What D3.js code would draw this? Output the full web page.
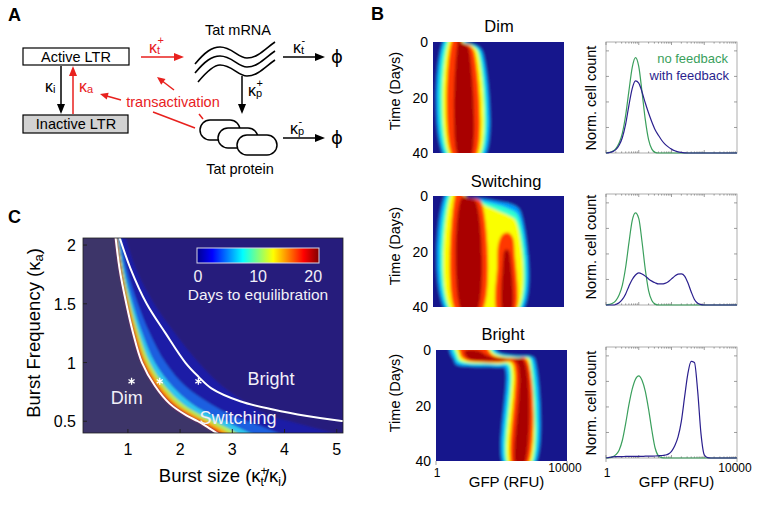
<!DOCTYPE html>
<html><head><meta charset="utf-8">
<script src="https://cdn.jsdelivr.net/npm/d3@7"></script>
<style>body{margin:0;background:#fff}</style>
</head><body>
<script>
// ================= DATA =================
// Panel B : GFP grid (log10 RFU) for histograms
const gfpLog = [0,0.1,0.2,0.3,0.4,0.5,0.6,0.7,0.8,0.9,1.0,1.1,1.2,1.3,1.4,1.5,1.6,1.7,1.8,1.9,2.0,2.1,2.2,2.3,2.4,2.5,2.6,2.7,2.8,2.9,3.0,3.1,3.2,3.3,3.4,3.5,3.6,3.7,3.8,3.9,4.0];
const noFbDim   = [0,0.005,0.015,0.04,0.09,0.18,0.34,0.56,0.77,0.86,0.78,0.55,0.30,0.12,0.035,0.006,0,0,0,0,0,0,0,0,0,0,0,0,0,0,0,0,0,0,0,0,0,0,0,0,0];
const withFbDim = [0,0.004,0.012,0.03,0.07,0.14,0.26,0.43,0.58,0.65,0.63,0.55,0.45,0.36,0.28,0.21,0.16,0.115,0.08,0.055,0.035,0.02,0.01,0.005,0.002,0,0,0,0,0,0,0,0,0,0,0,0,0,0,0,0];
const noFbSw    = [0,0.005,0.015,0.04,0.09,0.18,0.34,0.56,0.76,0.83,0.78,0.57,0.32,0.13,0.04,0.008,0,0,0,0,0,0,0,0,0,0,0,0,0,0,0,0,0,0,0,0,0,0,0,0,0];
const withFbSw  = [0,0,0,0.005,0.02,0.05,0.10,0.17,0.23,0.27,0.29,0.28,0.26,0.235,0.215,0.20,0.19,0.19,0.195,0.21,0.235,0.26,0.278,0.28,0.26,0.20,0.12,0.05,0.015,0.003,0,0,0,0,0,0,0,0,0,0,0];
const noFbBr    = [0,0.003,0.01,0.03,0.07,0.16,0.31,0.48,0.62,0.71,0.74,0.70,0.60,0.44,0.25,0.09,0.02,0.003,0,0,0,0,0,0,0,0,0,0,0,0,0,0,0,0,0,0,0,0,0,0,0];
const withFbBr  = [0,0.005,0.01,0.012,0.013,0.013,0.014,0.014,0.015,0.015,0.015,0.015,0.016,0.016,0.017,0.018,0.02,0.022,0.026,0.035,0.06,0.11,0.19,0.33,0.55,0.76,0.87,0.86,0.60,0.22,0.03,0.003,0,0,0,0,0,0,0,0,0];
const histYTicks = [0.23,0.46,0.69,0.92];

const panelTitles = ["Dim","Switching","Bright"];
const timeTicks = [0,20,40];
const gfpTickLabels = ["1","10000"];
const legendLabels = ["no feedback","with feedback"];

// Heatmap contour polygons [levelIndex, [[log10 GFP, day], ...]]
const heatLevels = [0.28,0.42,0.62,0.82,0.96];
const dimContours = [
 [0,[[0.40,-2],[1.02,-2],[1.02,0],[1.36,1.5],[1.51,3.5],[1.53,42],[0.40,42]]],
 [1,[[0.46,-2],[0.97,-2],[0.97,0],[1.28,1.5],[1.44,3.5],[1.45,42],[0.46,42]]],
 [2,[[0.55,-2],[0.92,-2],[0.92,0],[1.21,1.5],[1.36,3.5],[1.37,42],[0.55,42]]],
 [3,[[0.64,-2],[0.88,-2],[0.88,0],[1.15,1.5],[1.26,3.5],[1.27,42],[0.64,42]]],
 [4,[[0.80,-2],[0.85,-2],[0.85,0],[1.06,1.5],[1.12,3.5],[1.13,42],[0.80,42]]]
];
const swContours = [
 [0,[[0.45,-2],[0.95,-2],[1.0,0.2],[1.5,1.0],[2.0,2.0],[2.5,3.5],[2.68,6],[2.68,42],[0.45,42]]],
 [1,[[0.52,-2],[0.85,-2],[1.0,0.5],[1.4,1.5],[1.9,3.0],[2.3,4.5],[2.6,7],[2.6,42],[0.52,42]]],
 [2,[[0.6,-2],[0.8,-2],[1.1,1.0],[1.45,2.5],[1.7,4],[2.0,5.5],[2.3,7],[2.53,9],[2.53,42],[0.6,42]]],
 [3,[[0.72,-2],[0.8,-2],[1.0,0.5],[1.3,1.0],[1.47,2],[1.47,42],[0.72,42]]],
 [3,[[1.98,42],[1.96,25],[2.0,17],[2.13,13.8],[2.3,13.2],[2.44,15],[2.49,20],[2.49,42]]],
 [4,[[0.88,0.5],[1.1,0.8],[1.3,1.8],[1.32,42],[0.9,42]]],
 [4,[[2.15,42],[2.13,25],[2.2,19.5],[2.3,19.5],[2.38,24],[2.38,42]]]
];
const brContours = [
 [0,[[0.42,-2],[1.7,-2],[1.9,0.8],[2.4,2.0],[2.9,2.3],[3.0,3.0],[2.98,42],[2.1,42],[2.1,6.5],[1.9,6.2],[1.2,6.0],[0.8,5.8],[0.6,5.0],[0.55,3.5],[0.45,1.5]]],
 [1,[[0.5,-2],[1.6,-2],[1.85,1.2],[2.4,2.4],[2.85,2.6],[2.93,3.3],[2.92,42],[2.17,42],[2.17,5.8],[1.9,5.5],[1.2,5.3],[0.85,5.0],[0.65,4.2],[0.58,2.5]]],
 [2,[[0.58,-2],[1.5,-2],[1.8,1.5],[2.4,2.7],[2.82,2.9],[2.86,3.6],[2.85,42],[2.24,42],[2.24,5.2],[1.9,5.0],[1.3,4.8],[0.9,4.4],[0.72,3.5],[0.65,1.5]]],
 [3,[[0.7,-2],[1.45,-2],[1.75,2.0],[2.4,3.0],[2.76,3.2],[2.77,42],[2.34,42],[2.33,4.6],[1.9,4.5],[1.3,4.3],[0.95,3.8],[0.78,2.5],[0.72,0.5]]],
 [4,[[0.88,0.3],[1.3,0.3],[1.6,2.2],[2.3,3.3],[2.67,3.5],[2.67,42],[2.44,42],[2.44,4.2],[1.9,4.0],[1.3,3.8],[1.0,3.2],[0.88,1.5]]]
];

// Panel C : contour lines of "days to equilibration" (burst size at each burst frequency)
const cKa    = [2.12,1.8,1.5,1.25,1.0,0.8,0.65,0.55,0.5,0.44,0.37,0.33];
const cLeft  = [0.75,0.84,0.97,1.10,1.27,1.52,1.80,2.12,2.34,2.56,2.82,3.00];
const cDay18 = [0.77,0.86,0.99,1.13,1.31,1.57,1.87,2.20,2.42,2.65,2.92,3.10];
const cDay14 = [0.78,0.88,1.02,1.17,1.36,1.64,1.95,2.30,2.53,2.77,3.05,3.25];
const cDay10 = [0.79,0.90,1.05,1.21,1.42,1.71,2.05,2.42,2.66,2.92,3.22,3.42];
const cDay6  = [0.81,0.93,1.10,1.28,1.52,1.85,2.23,2.62,2.88,3.15,3.50,3.70];
const cDay3  = [0.84,0.98,1.19,1.42,1.72,2.10,2.58,3.00,3.30,3.65,4.05,4.30];
const cDay1  = [0.92,1.15,1.50,1.90,2.35,2.80,3.30,3.70,4.10,4.60,5.20,5.60];
const rightKa = [2.12,1.8,1.5,1.25,1.0,0.88,0.78,0.67,0.6,0.545,0.505,0.49];
const rightB  = [0.80,1.05,1.36,1.72,2.10,2.35,2.60,3.15,3.78,4.43,5.06,5.40];
const starBurst = [1.07,1.61,2.35];
const starKa = [0.84,0.84,0.84];
const cXTicks = [1,2,3,4,5];
const cYTicks = [0.5,1,1.5,2];
const colorbarTicks = [0,10,20];
const regionLabels = ["Dim","Switching","Bright"];
const regionBurst = [0.98,3.11,3.74];
const regionKa = [0.647,0.477,0.81];

// ================= DRAW =================
const FONT = '"Liberation Sans", Arial, Helvetica, sans-serif';
const svg = d3.select("body").append("svg").attr("width",758).attr("height",505)
  .style("font-family",FONT);
const defs = svg.append("defs");
const jet = d3.scaleLinear().domain([0,0.125,0.375,0.625,0.875,1])
  .range(["#00008f","#0000ff","#00ffff","#ffff00","#ff0000","#800000"]).clamp(true);
const RED = "#e8211e";

function arrow(g,x1,y1,x2,y2,color,hl=10,hw=4,w=1.5){
  const dx=x2-x1, dy=y2-y1, L=Math.hypot(dx,dy), ux=dx/L, uy=dy/L;
  const bx=x2-ux*hl, by=y2-uy*hl;
  g.append("line").attr("x1",x1).attr("y1",y1).attr("x2",bx+ux).attr("y2",by+uy)
    .attr("stroke",color).attr("stroke-width",w);
  g.append("path").attr("d",`M${x2},${y2}L${bx-uy*hw},${by+ux*hw}L${bx+uy*hw},${by-ux*hw}Z`).attr("fill",color);
}
function kappa(g,x,y,sup,sub,color,fs=16){
  const t = g.append("text").attr("x",x).attr("y",y).attr("font-size",fs).attr("fill",color);
  t.append("tspan").text("κ");
  if(sub) t.append("tspan").attr("font-size",11).attr("dy",1).text(sub);
  if(sup) g.append("text").attr("x",x+8.5).attr("y",y-9).attr("font-size",11).attr("fill",color).text(sup);
}

// ---------- Panel A ----------
const A = svg.append("g");
A.append("text").attr("x",8).attr("y",21).attr("font-size",18).attr("font-weight","bold").text("A");
A.append("rect").attr("x",23).attr("y",48).attr("width",106).attr("height",17).attr("fill","#fff").attr("stroke","#000").attr("stroke-width",1.2);
A.append("text").attr("x",76).attr("y",61.5).attr("text-anchor","middle").attr("font-size",14.5).text("Active LTR");
A.append("rect").attr("x",23).attr("y",115).attr("width",105).attr("height",18).attr("fill","#d2d2d2").attr("stroke","#000").attr("stroke-width",1.2);
A.append("text").attr("x",76).attr("y",129).attr("text-anchor","middle").attr("font-size",14.5).text("Inactive LTR");
arrow(A,61,66,61,114,"#000");
arrow(A,73,114,73,66,RED);
kappa(A,45,92,null,"i","#000");
kappa(A,79,92,null,"a",RED);
arrow(A,141,57,184,57,RED);
kappa(A,149,53,"+","t",RED);
A.append("text").attr("x",238).attr("y",35).attr("text-anchor","middle").attr("font-size",14.5).text("Tat mRNA");
[0,9,18].forEach((o,i)=>{
  const x0 = 195 + (i===2?3:0);
  A.append("path").attr("d",`M${x0},${64+o} C${x0+10},${52+o} ${x0+17},${47+o} 220,${47+o} C232,${47+o} 238,${58+o} 247,${58+o} C258,${58+o} 266,${48+o} 275,${42+o}`)
    .attr("fill","none").attr("stroke","#000").attr("stroke-width",1.6);
});
arrow(A,283,57,325,57,"#000");
kappa(A,293,53,"-","t","#000");
A.append("text").attr("x",337).attr("y",63).attr("text-anchor","middle").attr("font-size",18).style("font-family","'DejaVu Sans'").text("ϕ");
arrow(A,242,76,242,114,"#000");
kappa(A,248,96,"+","p","#000");
[[200,120],[218,128],[237,135]].forEach(p=>{
  A.append("rect").attr("x",p[0]).attr("y",p[1]).attr("width",40).attr("height",20).attr("rx",10)
    .attr("fill","#fff").attr("stroke","#000").attr("stroke-width",1.5);
});
A.append("text").attr("x",240).attr("y",174).attr("text-anchor","middle").attr("font-size",14.5).text("Tat protein");
arrow(A,283,138,325,138,"#000");
kappa(A,290,134,"-","p","#000");
A.append("text").attr("x",337).attr("y",144).attr("text-anchor","middle").attr("font-size",18).style("font-family","'DejaVu Sans'").text("ϕ");
A.append("text").attr("x",173).attr("y",107).attr("text-anchor","middle").attr("font-size",14.5).attr("fill",RED).text("transactivation");
arrow(A,121,100,100,94,RED,8,3.5);
arrow(A,174,90,157,77,RED,8,3.5);
A.append("line").attr("x1",195).attr("y1",128).attr("x2",153).attr("y2",112).attr("stroke",RED).attr("stroke-width",1.5);
A.append("line").attr("x1",203).attr("y1",119).attr("x2",199).attr("y2",114).attr("stroke",RED).attr("stroke-width",1.5);

// ---------- Panel B ----------
svg.append("text").attr("x",371).attr("y",20).attr("font-size",18).attr("font-weight","bold").text("B");
const hmX=[433,433,436], hmY=[42,196,350], hmW=131, hmH=111;
const hsX=[606,606,606], hsY=[42,194,347], hsW=131, hsH=111;
const titleX=[499,506,503], titleY=[32,187,340];
const timeLabelY=[91,246,393], normLabelY=[98,247,403];
const contourSets=[dimContours,swContours,brContours];
const noFb=[noFbDim,noFbSw,noFbBr], withFb=[withFbDim,withFbSw,withFbBr];
defs.append("filter").attr("id","blurB").attr("x","-20%").attr("y","-20%").attr("width","140%").attr("height","140%")
  .append("feGaussianBlur").attr("stdDeviation",1.5);
defs.append("filter").attr("id","blurC").attr("x","-20%").attr("y","-20%").attr("width","140%").attr("height","140%")
  .append("feGaussianBlur").attr("stdDeviation",1.1);

for(let p=0;p<3;p++){
  const gx = d3.scaleLinear().domain([0,4]).range([hmX[p],hmX[p]+hmW]);
  const ty = d3.scaleLinear().domain([0,40]).range([hmY[p],hmY[p]+hmH]);
  svg.append("text").attr("x",titleX[p]).attr("y",titleY[p]).attr("text-anchor","middle").attr("font-size",16.5).text(panelTitles[p]);
  defs.append("clipPath").attr("id","hmclip"+p).append("rect")
    .attr("x",hmX[p]).attr("y",hmY[p]).attr("width",hmW).attr("height",hmH);
  const outer = svg.append("g").attr("clip-path",`url(#hmclip${p})`);
  const inner = outer.append("g").attr("filter","url(#blurB)");
  inner.append("rect").attr("x",hmX[p]-10).attr("y",hmY[p]-10).attr("width",hmW+20).attr("height",hmH+20).attr("fill","#14148c");
  const poly = d3.line().x(d=>gx(d[0])).y(d=>ty(d[1])).curve(d3.curveCatmullRomClosed.alpha(0.5));
  contourSets[p].forEach(c=>{
    inner.append("path").attr("d",poly(c[1])).attr("fill",jet(heatLevels[c[0]]));
  });
  timeTicks.forEach(t=>{
    svg.append("text").attr("x",hmX[p]-5).attr("y",ty(t)+5).attr("text-anchor","end").attr("font-size",14).text(t);
  });
  svg.append("text").attr("transform",`translate(400,${timeLabelY[p]}) rotate(-90)`).attr("text-anchor","middle").attr("font-size",14.5).text("Time (Days)");

  // histogram
  const hx = d3.scaleLinear().domain([0,4]).range([hsX[p],hsX[p]+hsW]);
  const hy = d3.scaleLinear().domain([0,1]).range([hsY[p]+hsH,hsY[p]]);
  const hg = svg.append("g");
  hg.append("rect").attr("x",hsX[p]).attr("y",hsY[p]).attr("width",hsW).attr("height",hsH).attr("fill","#fff").attr("stroke","#9a9a9a").attr("stroke-width",0.8);
  for(let d=0; d<4; d++){
    for(let m=1;m<10;m++){
      const xv = hx(d+Math.log10(m));
      const len = m===1?3:1.6;
      hg.append("line").attr("x1",xv).attr("x2",xv).attr("y1",hsY[p]+hsH).attr("y2",hsY[p]+hsH-len).attr("stroke","#777").attr("stroke-width",0.7);
      hg.append("line").attr("x1",xv).attr("x2",xv).attr("y1",hsY[p]).attr("y2",hsY[p]+len).attr("stroke","#777").attr("stroke-width",0.7);
    }
  }
  histYTicks.forEach(v=>{
    hg.append("line").attr("x1",hsX[p]).attr("x2",hsX[p]+3).attr("y1",hy(v)).attr("y2",hy(v)).attr("stroke","#777").attr("stroke-width",0.7);
    hg.append("line").attr("x1",hsX[p]+hsW).attr("x2",hsX[p]+hsW-3).attr("y1",hy(v)).attr("y2",hy(v)).attr("stroke","#777").attr("stroke-width",0.7);
  });
  const ln = d3.line().x((d,i)=>hx(gfpLog[i])).y(d=>hy(d)).curve(d3.curveMonotoneX);
  hg.append("path").attr("d",ln(noFb[p])).attr("fill","none").attr("stroke","#3a9f5c").attr("stroke-width",1.2);
  hg.append("path").attr("d",ln(withFb[p])).attr("fill","none").attr("stroke","#2a1f8e").attr("stroke-width",1.2);
  svg.append("text").attr("transform",`translate(596,${normLabelY[p]}) rotate(-90)`).attr("text-anchor","middle").attr("font-size",14.5).text("Norm. cell count");

  if(p===0){
    svg.append("text").attr("x",728).attr("y",63).attr("text-anchor","end").attr("font-size",13).attr("fill","#3a9f5c").text(legendLabels[0]);
    svg.append("text").attr("x",729).attr("y",80).attr("text-anchor","end").attr("font-size",13).attr("fill","#2a1f8e").text(legendLabels[1]);
  }
  if(p===2){
    [[gx,hmY[p]+hmH],[hx,hsY[p]+hsH]].forEach(([sc,yb])=>{
      [0,4].forEach(v=>{
        svg.append("line").attr("x1",sc(v)).attr("x2",sc(v)).attr("y1",yb).attr("y2",yb+4).attr("stroke","#888").attr("stroke-width",0.8);
      });
      svg.append("text").attr("x",sc(0)+1).attr("y",477).attr("text-anchor","middle").attr("font-size",12).text(gfpTickLabels[0]);
      svg.append("text").attr("x",sc(4)-2).attr("y",472).attr("text-anchor","middle").attr("font-size",12).text(gfpTickLabels[1]);
      svg.append("text").attr("x",(sc(0)+sc(4))/2+5).attr("y",487).attr("text-anchor","middle").attr("font-size",15).text("GFP (RFU)");
    });
  }
}

// ---------- Panel C ----------
svg.append("text").attr("x",8).attr("y",223).attr("font-size",18).attr("font-weight","bold").text("C");
const cx = d3.scaleLinear().domain([0.14,5.12]).range([83,343]);
const cy = d3.scaleLinear().domain([0.4,2.06]).range([433,238]);
defs.append("clipPath").attr("id","cclip").append("rect").attr("x",83).attr("y",238).attr("width",260).attr("height",195);
const cOuter = svg.append("g").attr("clip-path","url(#cclip)");
const cInner = cOuter.append("g").attr("filter","url(#blurC)");
cInner.append("rect").attr("x",70).attr("y",225).attr("width",290).attr("height",220).attr("fill","#271f7b");
const rows = cKa.map((k,i)=>({ka:k,l:cLeft[i],d18:cDay18[i],d14:cDay14[i],d10:cDay10[i],d6:cDay6[i],d3:cDay3[i],d1:cDay1[i]}));
const band = (a,b)=>d3.area().curve(d3.curveCatmullRom).y(d=>cy(d.ka)).x0(d=>cx(d[a])).x1(d=>cx(d[b]));
cInner.append("path").attr("d",d3.area().curve(d3.curveCatmullRom).y(d=>cy(d.ka)).x0(cx(0)).x1(d=>cx(d.l))(rows)).attr("fill","#3c3469");
[["d3","d1","#1c1fa6"],["d6","d3","#1f5ee0"],["d10","d6","#2fc6ee"],["d14","d10","#b6f25a"],["d18","d14","#ffb400"],["l","d18","#e01a12"]]
  .forEach(([a,b,col])=>{ cInner.append("path").attr("d",band(a,b)(rows)).attr("fill",col); });
const wline = d3.line().curve(d3.curveCatmullRom);
cOuter.append("path").attr("d",wline(cKa.map((k,i)=>[cx(cLeft[i]),cy(k)]))).attr("fill","none").attr("stroke","#fff").attr("stroke-width",2);
cOuter.append("path").attr("d",wline(rightKa.map((k,i)=>[cx(rightB[i]),cy(k)]))).attr("fill","none").attr("stroke","#fff").attr("stroke-width",2);
const star = d3.symbol().type(d3.symbolAsterisk).size(34);
starBurst.forEach((b,i)=>{
  cOuter.append("path").attr("d",star()).attr("transform",`translate(${cx(b)},${cy(starKa[i])})`).attr("stroke","#fff").attr("stroke-width",1.3).attr("fill","none");
});
regionLabels.forEach((t,i)=>{
  cOuter.append("text").attr("x",cx(regionBurst[i])).attr("y",cy(regionKa[i])).attr("text-anchor","middle").attr("font-size",18).attr("fill","#f2f0f8").text(t);
});
const grad = defs.append("linearGradient").attr("id","jetgrad");
[0,0.125,0.375,0.625,0.875,1].forEach(o=>grad.append("stop").attr("offset",o).attr("stop-color",jet(o)));
const cb = d3.scaleLinear().domain([0,21]).range([197,319]);
cOuter.append("rect").attr("x",cb(0)).attr("y",248).attr("width",cb(21)-cb(0)).attr("height",15).attr("fill","url(#jetgrad)").attr("stroke","#d8d6e6").attr("stroke-width",1);
colorbarTicks.forEach(v=>{
  cOuter.append("text").attr("x",cb(v)+(v===0?1:v===10?3:0)).attr("y",282).attr("text-anchor","middle").attr("font-size",16).attr("fill","#f2f0f8").text(v);
});
cOuter.append("text").attr("x",258).attr("y",300).attr("text-anchor","middle").attr("font-size",15.5).attr("fill","#f2f0f8").text("Days to equilibration");
svg.append("rect").attr("x",83).attr("y",238).attr("width",260).attr("height",195).attr("fill","none").attr("stroke","#222").attr("stroke-width",0.8);
cXTicks.forEach(v=>{
  svg.append("line").attr("x1",cx(v)).attr("x2",cx(v)).attr("y1",433).attr("y2",429).attr("stroke","#222");
  svg.append("text").attr("x",cx(v)).attr("y",455).attr("text-anchor","middle").attr("font-size",16).text(v);
});
cYTicks.forEach(v=>{
  svg.append("line").attr("x1",83).attr("x2",87).attr("y1",cy(v)).attr("y2",cy(v)).attr("stroke","#222");
  svg.append("text").attr("x",76).attr("y",cy(v)+6).attr("text-anchor","end").attr("font-size",16).text(v);
});
const xt = svg.append("text").attr("x",223).attr("y",482).attr("text-anchor","middle").attr("font-size",18.5);
xt.append("tspan").text("Burst size (κ");
xt.append("tspan").attr("font-size",12).attr("dy",-7).text("+");
xt.append("tspan").attr("font-size",12).attr("dx",-7).attr("dy",11).text("t");
xt.append("tspan").attr("dy",-4).text("/κ");
xt.append("tspan").attr("font-size",12).attr("dy",4).text("i");
xt.append("tspan").attr("dy",-4).text(")");
const yt = svg.append("text").attr("transform","translate(40,333) rotate(-90)").attr("text-anchor","middle").attr("font-size",18.5);
yt.append("tspan").text("Burst Frequency (κ");
yt.append("tspan").attr("font-size",13).attr("dy",3).text("a");
yt.append("tspan").attr("dy",-3).text(")");
</script>
</body></html>
